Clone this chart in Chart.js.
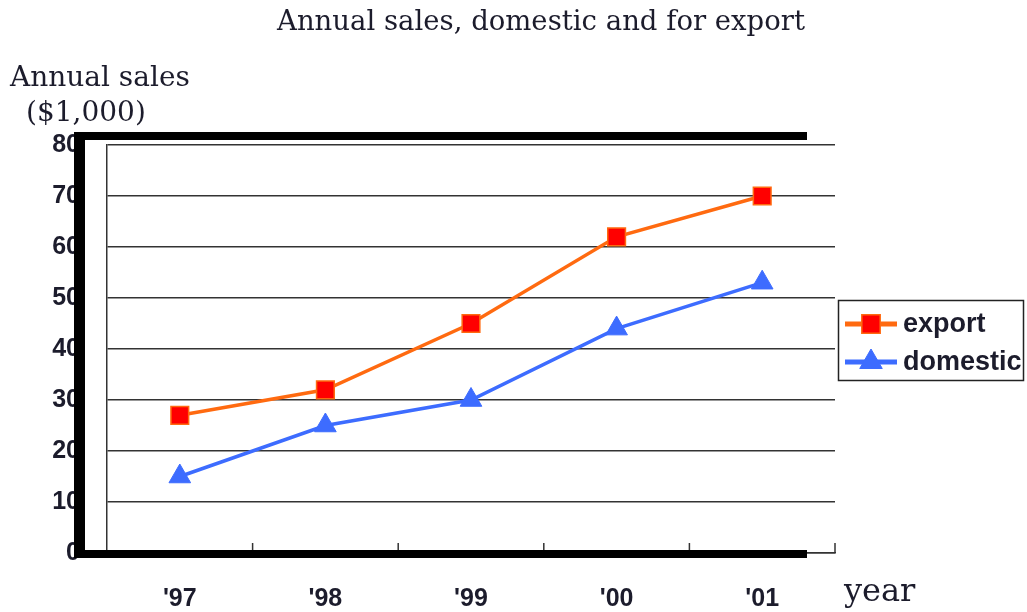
<!DOCTYPE html>
<html>
<head>
<meta charset="utf-8">
<script src="https://cdn.jsdelivr.net/npm/chart.js@4.4.0/dist/chart.umd.min.js"></script>
<style>
  html, body { margin: 0; padding: 0; background: #fff; }
  #wrap { width: 1027px; height: 612px; position: relative; }
</style>
</head>
<body>
<div id="wrap"><canvas id="salesChart" width="1027" height="612"></canvas></div>
<script>
const years = ["'97", "'98", "'99", "'00", "'01"];
const exportSales = [27, 32, 45, 62, 70];
const domesticSales = [15, 25, 30, 44, 53];
const yTicks = [0, 10, 20, 30, 40, 50, 60, 70, 80];

const labelFont = { family: 'Liberation Sans, Arial, sans-serif', size: 25, weight: 'bold' };
const serif = '"DejaVu Serif", serif';
const textColor = '#1c1c2c';
const gridColor = '#333333';

function drawMarker(ctx, style, radius, cx, cy) {
    Chart.helpers.drawPoint(ctx, {
        pointStyle: style, radius: radius, rotation: 0, borderWidth: 1.5
    }, cx, cy);
}

// titles, thick black frame, inner x ticks and the boxed legend
const decorations = {
    id: 'decorations',
    afterDraw(chart) {
        const ctx = chart.ctx;
        const area = chart.chartArea;
        const x = chart.scales.x;
        ctx.save();

        // small upward ticks on the category boundaries
        ctx.strokeStyle = gridColor;
        ctx.lineWidth = 1.5;
        for (let i = 0; i < years.length; i++) {
            const bx = i < years.length - 1
                ? (x.getPixelForTick(i) + x.getPixelForTick(i + 1)) / 2
                : area.right;
            ctx.beginPath();
            ctx.moveTo(bx, area.bottom);
            ctx.lineTo(bx, area.bottom - 10);
            ctx.stroke();
        }

        // heavy frame drawn over the axis labels
        ctx.fillStyle = '#000';
        ctx.fillRect(74, 132, 11, 426);
        ctx.fillRect(78, 132, 729, 8);
        ctx.fillRect(78, 550, 729, 8);

        ctx.fillStyle = textColor;
        ctx.textBaseline = 'alphabetic';
        ctx.textAlign = 'center';
        ctx.font = '27.5px ' + serif;
        ctx.fillText('Annual sales, domestic and for export', 541, 30);
        ctx.textAlign = 'left';
        ctx.font = '28px ' + serif;
        ctx.fillText('Annual sales', 10, 86);
        ctx.fillText('($1,000)', 26, 121);
        ctx.font = '32px ' + serif;
        ctx.fillText('year', 844, 601);

        // legend box
        ctx.strokeStyle = '#222';
        ctx.lineWidth = 1.5;
        ctx.strokeRect(838.5, 300.5, 185, 80);
        const rows = [{ ds: chart.data.datasets[0], y: 324 }, { ds: chart.data.datasets[1], y: 362 }];
        rows.forEach(r => {
            ctx.strokeStyle = r.ds.borderColor;
            ctx.lineWidth = 5;
            ctx.beginPath();
            ctx.moveTo(845, r.y);
            ctx.lineTo(897, r.y);
            ctx.stroke();
            ctx.fillStyle = r.ds.pointBackgroundColor;
            ctx.strokeStyle = r.ds.pointBorderColor;
            ctx.lineWidth = r.ds.pointBorderWidth;
            drawMarker(ctx, r.ds.pointStyle, 13, 871, r.y);
            ctx.fillStyle = textColor;
            ctx.font = 'bold 27px Liberation Sans, Arial, sans-serif';
            ctx.textBaseline = 'middle';
            ctx.fillText(r.ds.label, 903, r.y + 1);
        });
        ctx.restore();
    }
};

new Chart(document.getElementById('salesChart'), {
    type: 'line',
    data: {
        labels: years,
        datasets: [
            {
                label: 'export',
                data: exportSales,
                borderColor: '#ff6a10',
                borderWidth: 3.5,
                pointStyle: 'rect',
                pointRadius: 12.5,
                pointBackgroundColor: '#ff0000',
                pointBorderColor: '#ff6a10',
                pointBorderWidth: 1.5,
                tension: 0
            },
            {
                label: 'domestic',
                data: domesticSales,
                borderColor: '#3d6cff',
                borderWidth: 3.5,
                pointStyle: 'triangle',
                pointRadius: 12.5,
                pointBackgroundColor: '#3d6cff',
                pointBorderColor: '#3d6cff',
                pointBorderWidth: 1,
                tension: 0
            }
        ]
    },
    options: {
        responsive: false,
        animation: false,
        layout: { padding: { left: 0, top: 145, right: 192, bottom: 0 } },
        plugins: {
            legend: { display: false },
            title: { display: false },
            tooltip: { enabled: false }
        },
        scales: {
            x: {
                offset: true,
                grid: { display: false },
                border: { display: true, color: gridColor, width: 1.5 },
                ticks: { color: textColor, font: labelFont, padding: 23 },
                afterFit(scale) { scale.height = 59; }
            },
            y: {
                min: 0,
                max: 80,
                afterBuildTicks(scale) { scale.ticks = yTicks.map(v => ({ value: v })); },
                grid: { color: gridColor, lineWidth: 1.5, drawTicks: false },
                border: { display: true, color: gridColor, width: 1.5 },
                ticks: { color: textColor, font: labelFont, padding: 27 },
                afterFit(scale) { scale.width = 107; }
            }
        }
    },
    plugins: [decorations]
});
</script>
</body>
</html>
